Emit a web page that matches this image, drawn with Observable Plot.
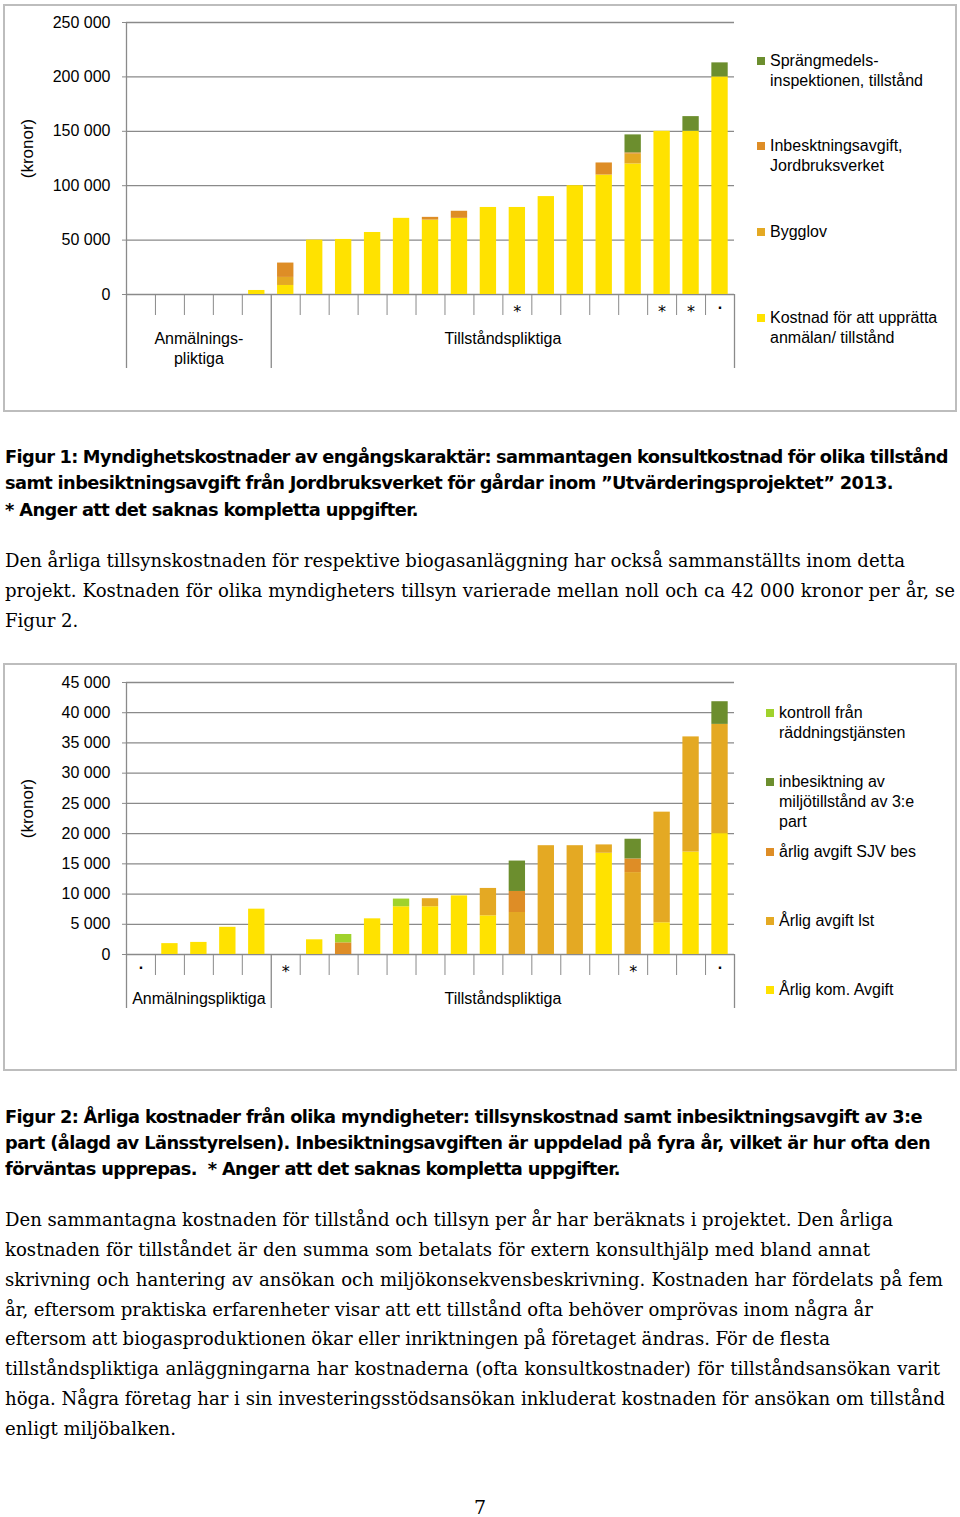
<!DOCTYPE html>
<html><head><meta charset="utf-8">
<script src="https://cdn.jsdelivr.net/npm/d3@7"></script>
<script src="https://cdn.jsdelivr.net/npm/@observablehq/plot@0.6"></script>
<style>
body{margin:0;background:#fff}
#page{position:relative;width:960px;height:1517px;overflow:hidden;background:#fff}
.box{position:absolute;border:2px solid #bdbdbd;box-sizing:border-box}
.leg{position:absolute;font-family:'Liberation Sans',Arial,sans-serif;font-size:16px;line-height:20px;color:#000;white-space:pre}
.sq{position:absolute;width:8px;height:8px}
.line{position:absolute;left:5px;white-space:pre;color:#000}
</style></head>
<body><div id="page"></div>
<script>
// ---------- DATA ----------
// Figure 1: one-off authority costs per plant (kronor), 21 plants
const fig1Series = ["Kostnad för att upprätta anmälan/ tillstånd", "Bygglov", "Inbesktningsavgift, Jordbruksverket", "Sprängmedelsinspektionen, tillstånd"];
const fig1LegendLabels = ["Sprängmedels-\ninspektionen, tillstånd", "Inbesktningsavgift,\nJordbruksverket", "Bygglov", "Kostnad för att upprätta\nanmälan/ tillstånd"];
const fig1Kostnad = [0, 0, 0, 0, 3700, 8300, 50000, 50600, 57000, 70000, 68400, 70000, 80000, 80000, 90000, 100000, 109800, 120000, 150000, 150000, 200000];
const fig1Bygglov = [0, 0, 0, 0, 0, 7400, 0, 0, 0, 0, 0, 0, 0, 0, 0, 0, 0, 9000, 0, 0, 0];
const fig1Inbes = [0, 0, 0, 0, 0, 13200, 0, 0, 0, 0, 2500, 6500, 0, 0, 0, 0, 11100, 1200, 0, 0, 0];
const fig1Spraeng = [0, 0, 0, 0, 0, 0, 0, 0, 0, 0, 0, 0, 0, 0, 0, 0, 0, 16500, 0, 13500, 12900];
const fig1Markers = ["", "", "", "", "", "", "", "", "", "", "", "", "", "*", "", "", "", "", "*", "*", "."];
const fig1YTicks = [0, 50000, 100000, 150000, 200000, 250000];
const fig1Groups = ["Anmälnings-\npliktiga", "Tillståndspliktiga"];
const fig1GroupBounds = [0, 5, 21];

// Figure 2: annual costs per plant (kronor)
const fig2Series = ["Årlig kom. Avgift", "Årlig avgift lst", "årlig avgift SJV bes", "inbesiktning av miljötillstånd av 3:e part", "kontroll från räddningstjänsten"];
const fig2LegendLabels = ["kontroll från\nräddningstjänsten", "inbesiktning av\nmiljötillstånd av 3:e\npart", "årlig avgift SJV bes", "Årlig avgift lst", "Årlig kom. Avgift"];
const fig2Kom = [0, 1800, 2000, 4500, 7500, 0, 2430, 0, 5900, 7900, 7900, 9700, 6400, 0, 0, 0, 16750, 0, 5250, 16950, 20000];
const fig2Lst = [0, 0, 0, 0, 0, 0, 0, 0, 0, 0, 1330, 0, 4530, 6950, 18000, 18000, 1380, 13550, 18300, 19050, 18070];
const fig2Sjv = [0, 0, 0, 0, 0, 0, 0, 1930, 0, 0, 0, 0, 0, 3480, 0, 0, 0, 2260, 0, 0, 0];
const fig2Insp = [0, 0, 0, 0, 0, 0, 0, 0, 0, 0, 0, 0, 0, 5030, 0, 0, 0, 3260, 0, 0, 3750];
const fig2Kontroll = [0, 0, 0, 0, 0, 0, 0, 1380, 0, 1270, 0, 0, 0, 0, 0, 0, 0, 0, 0, 0, 0];
const fig2Markers = [".", "", "", "", "", "*", "", "", "", "", "", "", "", "", "", "", "", "*", "", "", "."];
const fig2YTicks = [0, 5000, 10000, 15000, 20000, 25000, 30000, 35000, 40000, 45000];
const fig2Groups = ["Anmälningspliktiga", "Tillståndspliktiga"];
const fig2GroupBounds = [0, 5, 21];

const cYellow = "#ffe200", cAmber = "#e4a923", cOrange = "#de8d26", cGreen = "#6c8e2e", cLight = "#a0d22c";

// ---------- TEXT ----------
const caption1 = [
  ["Figur 1: Myndighetskostnader av engångskaraktär: sammantagen konsultkostnad för olika tillstånd", 457, 948],
  ["samt inbesiktningsavgift från Jordbruksverket för gårdar inom ”Utvärderingsprojektet” 2013.", 483, 893],
  ["* Anger att det saknas kompletta uppgifter.", 510, 418]
];
const body1 = [
  ["Den årliga tillsynskostnaden för respektive biogasanläggning har också sammanställts inom detta", 561, 905],
  ["projekt. Kostnaden för olika myndigheters tillsyn varierade mellan noll och ca 42 000 kronor per år, se", 591, 955],
  ["Figur 2.", 621, null]
];
const caption2 = [
  ["Figur 2: Årliga kostnader från olika myndigheter: tillsynskostnad samt inbesiktningsavgift av 3:e", 1117, 922],
  ["part (ålagd av Länsstyrelsen). Inbesiktningsavgiften är uppdelad på fyra år, vilket är hur ofta den", 1143, 930],
  ["förväntas upprepas.  * Anger att det saknas kompletta uppgifter.", 1169, 620]
];
const body2 = [
  ["Den sammantagna kostnaden för tillstånd och tillsyn per år har beräknats i projektet. Den årliga", 1220, 893],
  ["kostnaden för tillståndet är den summa som betalats för extern konsulthjälp med bland annat", 1250, 870],
  ["skrivning och hantering av ansökan och miljökonsekvensbeskrivning. Kostnaden har fördelats på fem", 1280, 943],
  ["år, eftersom praktiska erfarenheter visar att ett tillstånd ofta behöver omprövas inom några år", 1310, 873],
  ["eftersom att biogasproduktionen ökar eller inriktningen på företaget ändras. För de flesta", 1339, 830],
  ["tillståndspliktiga anläggningarna har kostnaderna (ofta konsultkostnader) för tillståndsansökan varit", 1369, 940],
  ["höga. Några företag har i sin investeringsstödsansökan inkluderat kostnaden för ansökan om tillstånd", 1399, 945],
  ["enligt miljöbalken.", 1429, null]
];

// ---------- BUILD ----------
const page = document.getElementById("page");
const GRAY = "#8a8a8a";
const CHART_FONT = "'Liberation Sans', Arial, sans-serif";
const fmt = d => d3.format(",")(d).replace(/,/g, " ");

function addBox(top, height) {
  const b = document.createElement("div");
  b.className = "box";
  Object.assign(b.style, {left: "3px", top: top + "px", width: "954px", height: height + "px"});
  page.appendChild(b);
}

function chart({top, series, values, colors, yMax, yTicks, markers, groups, bounds, longTick}) {
  const rows = [];
  series.forEach((s, k) => values[k].forEach((v, i) => { if (v > 0) rows.push({i, series: s, value: v}); }));
  const stars = markers.map((m, i) => ({i, m})).filter(d => d.m === "*");
  const dots = markers.map((m, i) => ({i, m})).filter(d => d.m === ".");
  const small = d3.range(1, 21).filter(t => !bounds.includes(t));
  const groupRows = groups.map((g, k) => ({label: g, c: (bounds[k] + bounds[k + 1]) / 2}));
  const svg = Plot.plot({
    width: 740, height: 380,
    marginLeft: 126, marginRight: 6, marginTop: 22, marginBottom: 86,
    x: {domain: [0, 21], label: null},
    y: {domain: [0, yMax], label: null},
    color: {domain: series, range: colors},
    style: {fontFamily: CHART_FONT, fontSize: "16px", color: "#000", background: "transparent", overflow: "visible"},
    marks: [
      Plot.gridY(yTicks, {stroke: GRAY, strokeOpacity: 1, strokeWidth: 1.3}),
      Plot.rectY(rows, {x1: "i", x2: d => d.i + 1, y: "value", fill: "series", insetLeft: 6.3, insetRight: 6.3}),
      Plot.ruleX([0], {stroke: GRAY, strokeWidth: 1.3}),
      Plot.axisY({ticks: yTicks, tickSize: 4, tickPadding: 12, tickFormat: fmt, stroke: GRAY, fill: "#000", label: null}),
      Plot.axisX({ticks: small, tickSize: 21, tickFormat: () => "", stroke: GRAY, label: null}),
      Plot.axisX({ticks: bounds, tickSize: longTick, tickFormat: () => "", stroke: GRAY, strokeWidth: 1.3, label: null}),
      Plot.text(stars, {x: d => d.i + 0.5, text: "m", frameAnchor: "bottom", dy: 22, fontSize: 16, fontFamily: "'DejaVu Sans', sans-serif", fill: "#000"}),
      Plot.text(dots, {x: d => d.i + 0.5, text: "m", frameAnchor: "bottom", dy: 14, fill: "#000", fontWeight: "bold"}),
      Plot.text(groupRows, {x: "c", text: "label", frameAnchor: "bottom", lineAnchor: "top", dy: 35, lineHeight: 1.25, fill: "#000"}),
      Plot.text(["(kronor)"], {frameAnchor: "left", textAnchor: "middle", rotate: -90, dx: -99, dy: -10, fontSize: 17, fill: "#000"})
    ]
  });
  const wrap = document.createElement("div");
  Object.assign(wrap.style, {position: "absolute", left: "0px", top: top + "px"});
  wrap.appendChild(svg);
  page.appendChild(wrap);
}

function legend(items, sqX, textX) {
  items.forEach(([label, color, yc]) => {
    const s = document.createElement("div");
    s.className = "sq";
    Object.assign(s.style, {left: sqX + "px", top: (yc - 4) + "px", background: color});
    page.appendChild(s);
    const t = document.createElement("div");
    t.className = "leg";
    Object.assign(t.style, {left: textX + "px", top: (yc - 10) + "px"});
    t.textContent = label;
    page.appendChild(t);
  });
}

function textBlock(lines, {font, weight, size, lh, spacing = 0}) {
  const els = lines.map(([text, yc, right]) => {
    const d = document.createElement("div");
    d.className = "line";
    Object.assign(d.style, {fontFamily: font, fontWeight: weight, fontSize: size + "px", lineHeight: lh + "px", top: (yc - lh / 2) + "px", letterSpacing: spacing + "px"});
    d.textContent = text;
    page.appendChild(d);
    return {d, text, right};
  });
  const ratios = els.filter(e => e.right && e.right - 5 > 300).map(e => (e.right - 5) / e.d.getBoundingClientRect().width);
  const r = ratios.length ? d3.median(ratios) : 1;
  els.forEach(e => e.d.style.fontSize = (size * r) + "px");
  els.forEach(e => {
    if (!e.right) return;
    const w = e.d.getBoundingClientRect().width;
    const n = (e.text.match(/ /g) || []).length;
    if (n) e.d.style.wordSpacing = ((e.right - 5 - w) / n) + "px";
  });
}

addBox(4, 408);
addBox(663, 408);

chart({top: 0, series: fig1Series, values: [fig1Kostnad, fig1Bygglov, fig1Inbes, fig1Spraeng],
  colors: [cYellow, cAmber, cOrange, cGreen], yMax: 250000, yTicks: fig1YTicks,
  markers: fig1Markers, groups: fig1Groups, bounds: fig1GroupBounds, longTick: 74});
chart({top: 660, series: fig2Series, values: [fig2Kom, fig2Lst, fig2Sjv, fig2Insp, fig2Kontroll],
  colors: [cYellow, cAmber, cOrange, cGreen, cLight], yMax: 45000, yTicks: fig2YTicks,
  markers: fig2Markers, groups: fig2Groups, bounds: fig2GroupBounds, longTick: 54});

legend([[fig1LegendLabels[0], cGreen, 61], [fig1LegendLabels[1], cOrange, 146], [fig1LegendLabels[2], cAmber, 232], [fig1LegendLabels[3], cYellow, 318]], 757, 770);
legend([[fig2LegendLabels[0], cLight, 713], [fig2LegendLabels[1], cGreen, 782], [fig2LegendLabels[2], cOrange, 852], [fig2LegendLabels[3], cAmber, 921], [fig2LegendLabels[4], cYellow, 990]], 766, 779);

const BOLD = "'DejaVu Sans', Verdana, sans-serif";
const SERIF = "'DejaVu Serif', Georgia, serif";
textBlock(caption1, {font: BOLD, weight: "bold", size: 17, lh: 26, spacing: -0.6});
textBlock(body1, {font: SERIF, weight: "normal", size: 19, lh: 30});
textBlock(caption2, {font: BOLD, weight: "bold", size: 17, lh: 26, spacing: -0.6});
textBlock(body2, {font: SERIF, weight: "normal", size: 19, lh: 30});

const pn = document.createElement("div");
Object.assign(pn.style, {position: "absolute", left: "470px", width: "20px", textAlign: "center", top: "1497px", fontFamily: SERIF, fontSize: "19px", lineHeight: "20px"});
pn.textContent = "7";
page.appendChild(pn);
</script>
</body></html>
